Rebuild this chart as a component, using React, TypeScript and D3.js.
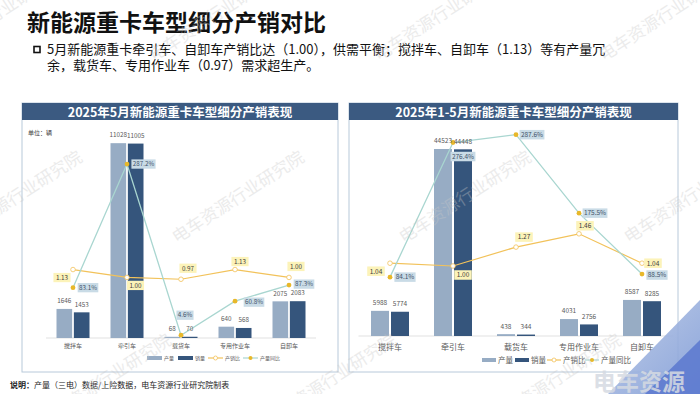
import React from 'react';
import * as d3 from 'd3';

// ---- data ----
const categories = ['搅拌车', '牵引车', '载货车', '专用作业车', '自卸车'];
const seriesNames = ['产量', '销量', '产销比', '产量同比'];

const mayOutput = [1646, 11028, 68, 640, 2075];
const maySales = [1453, 11005, 70, 568, 2083];
const mayRatio = [1.13, 1.0, 0.97, 1.13, 1.0];
const mayYoy = [83.1, 287.2, 4.6, 60.8, 87.3];

const ytdOutput = [5988, 44523, 438, 4031, 8587];
const ytdSales = [5774, 44448, 344, 2756, 8285];
const ytdRatio = [1.04, 1.0, 1.27, 1.46, 1.04];
const ytdYoy = [84.1, 276.4, 287.6, 175.5, 88.5];

const FONT = '"Noto Sans CJK SC", "Noto Sans", sans-serif';
const COL = {
  output: '#97acc4',
  sales: '#35557c',
  ratio: '#f2c25a',
  yoy: '#a9d6d0',
  dot: '#e8b82a',
  ratioBox: '#fcf3b9',
  yoyBox: '#c9dbe6',
  header: '#3b5a81',
  border: '#b8c9da',
  text: '#595959',
};

// label offsets from the point (layout only)
const mayRatioOff = [[-11, 8], [8.5, 8], [7, -11], [5, -8], [7, -11]];
const mayYoyOff = [[15, 0], [16.5, 0], [4, -20], [19, 1], [15, -1]];
const ytdRatioOff = [[-14, 8], [10, 9], [8, -10], [6, -8], [11, 0]];
const ytdYoyOff = [[15, 0], [10, 14], [16, 0], [16, 0], [15, 1]];

function Tag({ x, y, text, fill, color, fs }: any) {
  const w = text.length * fs * 0.56 + 3;
  const h = fs + 3;
  return (
    <g>
      <rect x={x - w / 2} y={y - h / 2} width={w} height={h} fill={fill} />
      <text x={x} y={y} dy="0.36em" textAnchor="middle" fontSize={fs} fill={color}>{text}</text>
    </g>
  );
}

function Legend({ xs, y, fs, sw }: any) {
  return (
    <g fontSize={fs} fill={COL.text}>
      <rect x={xs[0]} y={y - 2} width={sw} height={4} fill={COL.output} />
      <text x={xs[0] + sw + 2} y={y} dy="0.35em">{seriesNames[0]}</text>
      <rect x={xs[1]} y={y - 2} width={sw} height={4} fill={COL.sales} />
      <text x={xs[1] + sw + 2} y={y} dy="0.35em">{seriesNames[1]}</text>
      <line x1={xs[2]} x2={xs[2] + sw} y1={y} y2={y} stroke={COL.ratio} strokeWidth={1.2} />
      <circle cx={xs[2] + sw / 2} cy={y} r={2} fill="#fff" stroke={COL.ratio} strokeWidth={0.8} />
      <text x={xs[2] + sw + 2} y={y} dy="0.35em">{seriesNames[2]}</text>
      <line x1={xs[3]} x2={xs[3] + sw} y1={y} y2={y} stroke={COL.yoy} strokeWidth={1.2} />
      <circle cx={xs[3] + sw / 2} cy={y} r={2} fill={COL.dot} />
      <text x={xs[3] + sw + 2} y={y} dy="0.35em">{seriesNames[3]}</text>
    </g>
  );
}

function Panel(p: any) {
  const x = d3.scaleBand<string>().domain(categories).range(p.xRange);
  const sub = d3.scaleBand<string>().domain(seriesNames.slice(0, 2)).range([-p.barSpan / 2, p.barSpan / 2]).paddingInner(0.1);
  const yBar = d3.scaleLinear().domain([0, p.barMax]).range([p.baseY, p.topY]);
  const yLine = d3.scaleLinear().domain([0, p.lineMax]).range([p.baseY, p.topY]);
  const cx = (i: number) => (x(categories[i]) ?? 0) + x.bandwidth() / 2;
  const line = d3.line<number>().x((_, i) => cx(i)).y((v) => yLine(v));
  const yoyShare = p.yoy.map((v: number) => v / 100);

  return (
    <g fontFamily={FONT}>
      <rect x={p.x} y={p.y} width={p.w} height={p.h} fill="#fff" stroke={COL.border} strokeWidth={1} />
      <rect x={p.x} y={p.y} width={p.w} height={17} fill={COL.header} />
      <text x={p.x + p.w / 2} y={p.y + 9} dy="0.36em" textAnchor="middle" fill="#fff" fontSize={12.5} fontWeight={700}>{p.title}</text>
      {p.unit && <text x={p.x + 6} y={135} fontSize={6} fill="#404040">{p.unit}</text>}

      <line x1={p.xRange[0]} x2={p.xRange[1]} y1={p.baseY} y2={p.baseY} stroke="#d9d9d9" strokeWidth={0.8} />

      {categories.map((c, i) => (
        <g key={c}>
          <rect x={cx(i) + (sub('产量') ?? 0)} y={yBar(p.output[i])} width={sub.bandwidth()} height={p.baseY - yBar(p.output[i])} fill={COL.output} />
          <rect x={cx(i) + (sub('销量') ?? 0)} y={yBar(p.sales[i])} width={sub.bandwidth()} height={p.baseY - yBar(p.sales[i])} fill={COL.sales} />
          <text x={cx(i)} y={p.catY} dy="0.36em" textAnchor="middle" fontSize={p.catFs} fill={COL.text}>{c}</text>
        </g>
      ))}

      <path d={line(p.ratio) ?? ''} fill="none" stroke={COL.ratio} strokeWidth={1.2} />
      <path d={line(yoyShare) ?? ''} fill="none" stroke={COL.yoy} strokeWidth={1.3} />
      {p.ratio.map((v: number, i: number) => (
        <circle key={'r' + i} cx={cx(i)} cy={yLine(v)} r={2.3} fill="#fff" stroke={COL.ratio} strokeWidth={0.8} />
      ))}
      {yoyShare.map((v: number, i: number) => (
        <circle key={'y' + i} cx={cx(i)} cy={yLine(v)} r={2.4} fill={COL.dot} />
      ))}

      {categories.map((c, i) => (
        <g key={'lab' + c} fontSize={p.fs} fill={COL.text} textAnchor="middle">
          <text x={cx(i) + (sub('产量') ?? 0) + sub.bandwidth() / 2} y={yBar(p.output[i]) - 8} dy="0.36em">{p.output[i]}</text>
          <text x={cx(i) + (sub('销量') ?? 0) + sub.bandwidth() / 2} y={yBar(p.sales[i]) - 8} dy="0.36em">{p.sales[i]}</text>
        </g>
      ))}

      {p.ratio.map((v: number, i: number) => (
        <Tag key={'rt' + i} x={cx(i) + p.ratioOff[i][0]} y={yLine(v) + p.ratioOff[i][1]} text={v.toFixed(2)} fill={COL.ratioBox} color="#404040" fs={p.fs} />
      ))}
      {p.yoy.map((v: number, i: number) => (
        <Tag key={'yt' + i} x={cx(i) + p.yoyOff[i][0]} y={yLine(v / 100) + p.yoyOff[i][1]} text={v.toFixed(1) + '%'} fill={COL.yoyBox} color="#44546a" fs={p.fs} />
      ))}

      <Legend xs={p.legendXs} y={p.legendY} fs={p.legendFs} sw={p.legendSw} />
    </g>
  );
}

const marks: [number, number][] = [
  [-5, 15], [215, 15], [440, 15], [665, 15],
  [16, 197], [238, 197], [465, 197], [690, 197],
  [105, 380], [330, 380], [555, 380],
];

export default function App() {
  return (
    <svg width={700} height={394} style={{ position: 'absolute', left: 0, top: 0, background: '#fff' }} fontFamily={FONT}>
      <defs>
        <linearGradient id="deco" x1="0" y1="0" x2="1" y2="1">
          <stop offset="0" stopColor="#b9c8e6" />
          <stop offset="1" stopColor="#7f9bd6" />
        </linearGradient>
      </defs>
      <rect width={700} height={394} fill="#fff" />

      <text x={27} y={31} fontSize={23} fontWeight={700} fill="#111">新能源重卡车型细分产销对比</text>
      <rect x={34} y={46.5} width={6} height={6} fill="#fff" stroke="#111" strokeWidth={1.6} />
      <text x={47} y={54} fontSize={13} fill="#111">5月新能源重卡牵引车、自卸车产销比达（1.00），供需平衡；搅拌车、自卸车（1.13）等有产量冗</text>
      <text x={47} y={70} fontSize={13} fill="#111">余，载货车、专用作业车（0.97）需求超生产。</text>

      <Panel
        x={22} y={103} w={316} h={269}
        title="2025年5月新能源重卡车型细分产销表现" unit="单位：辆"
        output={mayOutput} sales={maySales} ratio={mayRatio} yoy={mayYoy}
        xRange={[46, 316]} barSpan={33} baseY={338} topY={126} barMax={12000} lineMax={3.5}
        fs={6.3} catFs={6} catY={346}
        ratioOff={mayRatioOff} yoyOff={mayYoyOff}
        legendXs={[147, 178, 208, 243]} legendY={358} legendFs={5} legendSw={15}
      />
      <Panel
        x={349} y={103} w={329} h={269}
        title="2025年1-5月新能源重卡车型细分产销表现"
        output={ytdOutput} sales={ytdSales} ratio={ytdRatio} yoy={ytdYoy}
        xRange={[358.5, 673.5]} barSpan={38} baseY={336} topY={126} barMax={50000} lineMax={3}
        fs={6.5} catFs={8} catY={347}
        ratioOff={ytdRatioOff} yoyOff={ytdYoyOff}
        legendXs={[482, 515, 547, 585]} legendY={360} legendFs={7.5} legendSw={14}
      />

      <text x={10} y={388} fontSize={8} fill="#222"><tspan fontWeight={700}>说明：</tspan>产量（三电）数据/上险数据，电车资源行业研究院制表</text>

      <polygon points="700,300 700,394 608,394" fill="url(#deco)" opacity={0.9} />
      <polygon points="700,340 700,394 645,394" fill="#5a78cf" opacity={0.85} />
      <text x={593} y={390} fontSize={23} fontWeight={700} fill="#d5dae2" opacity={0.85}>电车资源</text>

      {marks.map(([mx, my], i) => (
        <text key={i} x={mx} y={my} transform={`rotate(-33 ${mx} ${my})`} textAnchor="middle" dy="0.35em" fontSize={17} fill="#c8c8c8" opacity={0.35}>电车资源行业研究院</text>
      ))}
    </svg>
  );
}
